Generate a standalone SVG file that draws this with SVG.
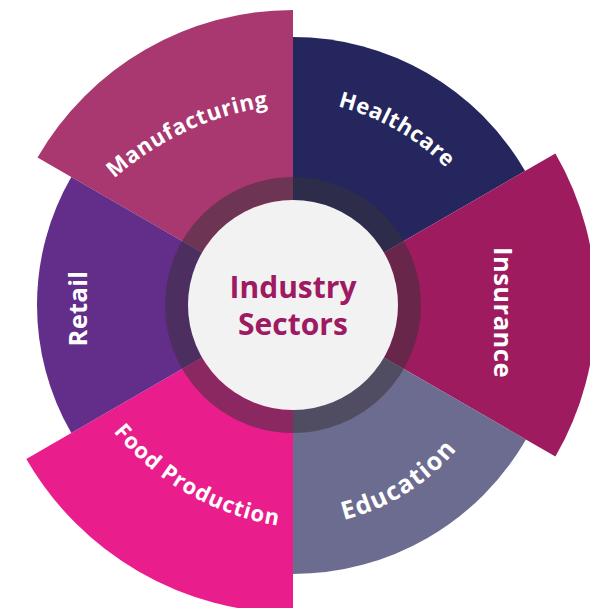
<svg xmlns="http://www.w3.org/2000/svg" width="590" height="608" viewBox="0 0 590 608">
  <style>
    .lbl { font-family: "Open Sans", "Liberation Sans", Arial, sans-serif; font-weight: 700; fill: #FFFFFF; }
    .ctr { font-family: "Open Sans", "Liberation Sans", Arial, sans-serif; font-weight: 700; fill: #9E1A62; font-size: 30px; }
  </style>
  <defs>
    <path id="p-manu" d="M53.2,253.3 A300,300 0 0 1 365.1,107.9"/>
    <path id="p-health" d="M237.9,102.9 A235,235 0 0 1 500.3,252.6"/>
    <path id="p-edu" d="M262.4,524 A215,215 0 0 0 496.8,377.5"/>
    <path id="p-food" d="M67.8,353.1 A270,270 0 0 0 369.6,524.6"/>
  </defs>
  <rect width="590" height="608" fill="#FFFFFF"/>

  <g id="manufacturing">
    <path d="M293,305 L37.5,157.5 A295,295 0 0 1 293,10 Z" fill="#A8386F"/>
    <text class="lbl" font-size="22" letter-spacing="0.7"><textPath href="#p-manu" startOffset="50%" text-anchor="middle">Manufacturing</textPath></text>
  </g>
  <g id="healthcare">
    <path d="M293,305 L293,37 A268,268 0 0 1 525.1,171 Z" fill="#25265E"/>
    <text class="lbl" font-size="22" letter-spacing="0.5"><textPath href="#p-health" startOffset="50%" text-anchor="middle">Healthcare</textPath></text>
  </g>
  <g id="insurance">
    <path d="M293,305 L555.4,153.5 A303,303 0 0 1 555.4,456.5 Z" fill="#9E1B5F"/>
    <text class="lbl" font-size="25.5" letter-spacing="0.5" text-anchor="middle" transform="translate(493.5,312.5) rotate(90)">Insurance</text>
  </g>
  <g id="education">
    <path d="M293,305 L526,439.5 A269,269 0 0 1 293,574 Z" fill="#6C6C90"/>
    <text class="lbl" font-size="25" letter-spacing="1.3"><textPath href="#p-edu" startOffset="50%" text-anchor="middle">Education</textPath></text>
  </g>
  <g id="food-production">
    <path d="M293,305 L293,613 A308,308 0 0 1 26.3,459 Z" fill="#E91E8C"/>
    <text class="lbl" font-size="22" letter-spacing="0.9"><textPath href="#p-food" startOffset="50%" text-anchor="middle">Food Production</textPath></text>
  </g>
  <g id="retail">
    <path d="M293,305 L71.3,433 A256,256 0 0 1 71.3,177 Z" fill="#632D8A"/>
    <text class="lbl" font-size="25.5" letter-spacing="0.3" text-anchor="middle" transform="translate(87,308.5) rotate(-90)">Retail</text>
  </g>

  <g id="center">
    <circle cx="293" cy="305" r="116.5" fill="none" stroke="#383239" stroke-opacity="0.52" stroke-width="23"/>
    <circle cx="293" cy="305" r="105" fill="#F2F2F2"/>
    <text class="ctr" x="293" y="298" text-anchor="middle">Industry</text>
    <text class="ctr" x="293" y="335" text-anchor="middle">Sectors</text>
  </g>
</svg>
